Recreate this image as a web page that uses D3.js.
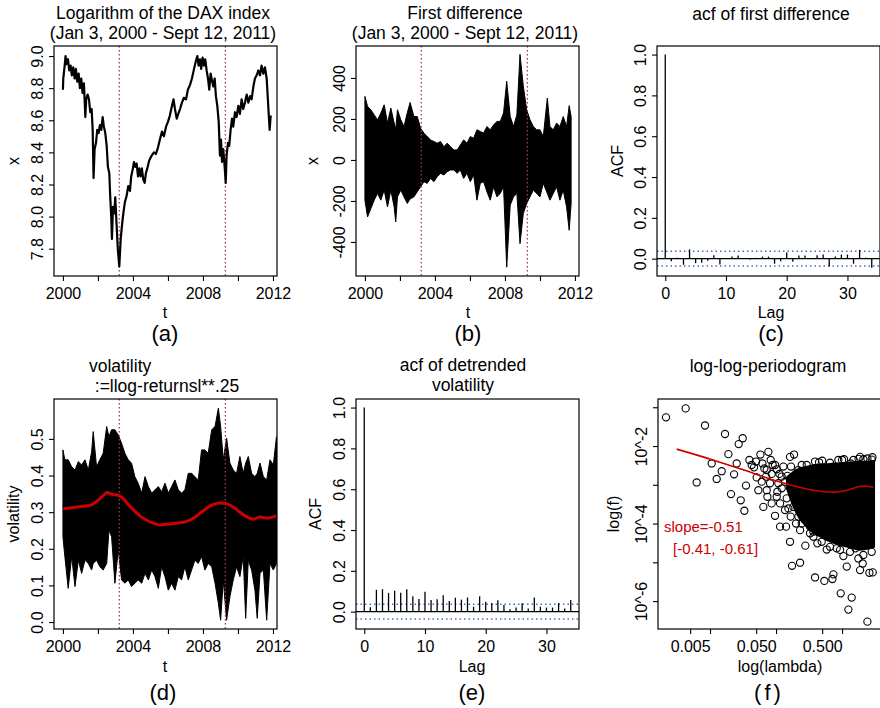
<!DOCTYPE html>
<html>
<head>
<meta charset="utf-8">
<script src="https://cdnjs.cloudflare.com/ajax/libs/d3/7.8.5/d3.min.js"></script>
<style>
  body { margin: 0; background: #fff; }
  svg { font-family: "Liberation Sans", Arial, Helvetica, sans-serif; }
</style>
</head>
<body>
<svg id="fig" width="880" height="708"></svg>
<script>
// ---------------- data ----------------
const breakYears = [2003.22, 2009.28];
const yearTicks = [2000, 2002, 2004, 2006, 2008, 2010, 2012];
const yearLabels = [2000, 2004, 2008, 2012];

// (a) log DAX  [year, log value]
const daxPoints = [
  [2000.00,8.79],[2000.02,8.86],[2000.10,8.94],[2000.15,9.00],[2000.21,8.95],[2000.29,8.98],[2000.36,8.91],
  [2000.44,8.94],[2000.51,8.88],[2000.59,8.93],[2000.67,8.86],[2000.74,8.92],[2000.82,8.84],[2000.90,8.89],
  [2000.97,8.80],[2001.05,8.86],[2001.12,8.77],[2001.20,8.83],[2001.28,8.62],[2001.33,8.73],[2001.41,8.76],
  [2001.49,8.73],[2001.56,8.65],[2001.64,8.67],[2001.70,8.54],[2001.75,8.24],[2001.81,8.42],[2001.89,8.46],
  [2001.96,8.54],[2002.04,8.52],[2002.11,8.57],[2002.19,8.54],[2002.27,8.62],[2002.34,8.56],[2002.42,8.52],
  [2002.50,8.44],[2002.57,8.31],[2002.65,8.27],[2002.70,8.13],[2002.76,8.00],[2002.80,7.86],[2002.86,8.06],
  [2002.93,8.02],[2002.99,8.12],[2003.07,7.94],[2003.14,7.79],[2003.22,7.69],[2003.30,7.86],[2003.37,7.94],
  [2003.45,8.02],[2003.54,8.09],[2003.64,8.13],[2003.73,8.19],[2003.83,8.16],[2003.90,8.25],[2003.98,8.29],
  [2004.06,8.34],[2004.13,8.31],[2004.21,8.33],[2004.29,8.25],[2004.36,8.30],[2004.44,8.25],[2004.51,8.30],
  [2004.59,8.23],[2004.67,8.21],[2004.74,8.27],[2004.82,8.30],[2004.93,8.35],[2005.07,8.38],[2005.20,8.40],
  [2005.31,8.39],[2005.43,8.43],[2005.54,8.48],[2005.66,8.53],[2005.77,8.50],[2005.89,8.56],[2006.00,8.59],
  [2006.11,8.63],[2006.23,8.69],[2006.32,8.73],[2006.40,8.67],[2006.50,8.61],[2006.59,8.64],[2006.69,8.67],
  [2006.80,8.71],[2006.91,8.74],[2007.03,8.73],[2007.14,8.79],[2007.26,8.82],[2007.37,8.86],[2007.49,8.92],
  [2007.60,8.97],[2007.68,9.00],[2007.75,8.94],[2007.83,8.98],[2007.90,8.92],[2007.98,8.99],[2008.06,8.94],
  [2008.13,8.98],[2008.21,8.91],[2008.29,8.86],[2008.36,8.79],[2008.44,8.89],[2008.51,8.85],[2008.59,8.81],
  [2008.67,8.86],[2008.74,8.75],[2008.82,8.69],[2008.90,8.59],[2008.97,8.38],[2009.03,8.48],[2009.09,8.34],
  [2009.16,8.42],[2009.24,8.31],[2009.30,8.21],[2009.35,8.38],[2009.43,8.46],[2009.50,8.44],[2009.58,8.54],
  [2009.66,8.61],[2009.73,8.56],[2009.83,8.65],[2009.92,8.62],[2010.02,8.69],[2010.11,8.64],[2010.21,8.73],
  [2010.30,8.67],[2010.40,8.71],[2010.50,8.76],[2010.59,8.71],[2010.69,8.75],[2010.78,8.73],[2010.88,8.81],
  [2010.97,8.86],[2011.07,8.88],[2011.16,8.91],[2011.26,8.88],[2011.35,8.94],[2011.45,8.89],[2011.54,8.93],
  [2011.64,8.86],[2011.73,8.69],[2011.81,8.54],[2011.87,8.63]
];

// (b) first difference envelope  [year, high, low]
const diffBand = [
  [2000.00,310,-196],[2000.15,261,-278],[2000.34,245,-237],[2000.53,220,-196],[2000.72,196,-163],
  [2000.91,229,-196],[2001.10,269,-147],[2001.29,180,-229],[2001.48,253,-147],[2001.67,180,-229],
  [2001.76,150,-302],[2001.86,245,-180],[2002.05,196,-147],[2002.23,163,-180],[2002.42,230,-212],
  [2002.58,280,-190],[2002.80,212,-180],[2002.99,212,-155],[2003.18,155,-131],[2003.37,131,-106],
  [2003.56,114,-114],[2003.75,98,-90],[2003.94,90,-106],[2004.13,82,-82],[2004.32,90,-65],
  [2004.51,65,-73],[2004.70,82,-57],[2004.89,65,-49],[2005.08,49,-49],[2005.27,49,-65],
  [2005.45,73,-49],[2005.64,98,-90],[2005.83,82,-65],[2006.02,114,-106],[2006.21,106,-73],
  [2006.40,147,-196],[2006.59,139,-114],[2006.78,131,-106],[2006.97,163,-155],[2007.16,147,-196],
  [2007.35,171,-131],[2007.54,188,-180],[2007.73,188,-163],[2007.92,229,-131],[2008.10,384,-523],
  [2008.30,212,-220],[2008.49,163,-180],[2008.68,220,-163],[2008.86,515,-408],[2009.05,359,-261],
  [2009.24,245,-212],[2009.43,196,-180],[2009.62,163,-147],[2009.81,147,-163],[2010.00,147,-180],
  [2010.19,114,-114],[2010.42,302,-163],[2010.57,163,-196],[2010.76,147,-163],[2010.95,180,-131],
  [2011.14,163,-196],[2011.33,212,-147],[2011.52,163,-229],[2011.67,265,-343],[2011.78,212,-212]
];

// (c), (e) autocorrelations for lags 0..34
const acfLags = d3.range(0, 35);
const acfDiff = [1, -0.013, 0.005, -0.03, 0.045, -0.022, -0.02, -0.01, 0.017, -0.029, 0.003, 0.01, 0.016,
  0.003, -0.004, 0.004, 0.01, 0.01, -0.025, -0.013, 0.03, -0.015, 0.016, 0.016, 0.003, 0.017, 0.02, -0.038,
  0.01, 0.02, 0.02, -0.025, 0.043, 0.005, -0.045];
const acfVol = [1, 0.022, 0.107, 0.11, 0.092, 0.103, 0.093, 0.11, 0.075, 0.062, 0.097, 0.057, 0.061, 0.08,
  0.052, 0.068, 0.059, 0.069, 0.024, 0.075, 0.049, 0.043, 0.056, 0.033, 0.012, 0.02, 0.041, 0.016, 0.069,
  0.024, 0.02, 0.02, 0.042, 0.016, 0.057];
const ciBound = 0.036;

// (d) volatility envelope [year, high, low] and smoothed trend [year, value]
const volBand = [
  [2000.00,0.470,0.233],[2000.11,0.443,0.179],[2000.30,0.443,0.092],[2000.50,0.424,0.179],[2000.69,0.415,0.097],
  [2000.88,0.438,0.169],[2001.07,0.429,0.133],[2001.26,0.443,0.169],[2001.45,0.415,0.160],[2001.64,0.465,0.142],
  [2001.73,0.520,0.160],[2001.92,0.424,0.169],[2002.11,0.443,0.151],[2002.30,0.461,0.142],[2002.50,0.534,0.160],
  [2002.63,0.506,0.251],[2002.78,0.525,0.233],[2002.97,0.525,0.106],[2003.16,0.511,0.197],[2003.35,0.488,0.115],
  [2003.54,0.461,0.106],[2003.73,0.443,0.115],[2003.92,0.434,0.097],[2004.11,0.397,0.106],[2004.30,0.379,0.115],
  [2004.50,0.352,0.106],[2004.69,0.397,0.133],[2004.88,0.370,0.115],[2005.07,0.352,0.142],[2005.26,0.361,0.124],
  [2005.45,0.370,0.092],[2005.64,0.356,0.151],[2005.83,0.379,0.124],[2006.02,0.352,0.087],[2006.21,0.370,0.106],
  [2006.40,0.388,0.087],[2006.59,0.361,0.124],[2006.78,0.352,0.115],[2006.97,0.361,0.151],[2007.16,0.406,0.115],
  [2007.35,0.406,0.142],[2007.54,0.397,0.169],[2007.73,0.388,0.160],[2007.92,0.470,0.179],[2008.11,0.470,0.142],
  [2008.30,0.461,0.160],[2008.50,0.525,0.151],[2008.69,0.534,0.106],[2008.88,0.584,0.051],[2009.01,0.534,0.005],
  [2009.16,0.443,0.115],[2009.35,0.502,0.005],[2009.54,0.434,0.069],[2009.73,0.415,0.115],[2009.92,0.406,0.151],
  [2010.11,0.452,0.124],[2010.30,0.406,0.179],[2010.44,0.434,0.010],[2010.59,0.452,0.169],[2010.78,0.406,0.142],
  [2010.97,0.397,0.087],[2011.10,0.406,0.010],[2011.26,0.434,0.133],[2011.45,0.397,0.142],[2011.64,0.388,0.005],
  [2011.83,0.443,0.160],[2012.02,0.429,0.142],[2012.20,0.506,0.160]
];
const volTrend = [
  [2000.02,0.309],[2000.59,0.313],[2001.16,0.316],[2001.64,0.320],[2002.02,0.333],[2002.30,0.345],
  [2002.53,0.354],[2002.78,0.349],[2003.16,0.346],[2003.45,0.337],[2003.73,0.321],[2004.02,0.307],
  [2004.40,0.290],[2004.78,0.278],[2005.16,0.270],[2005.54,0.265],[2005.92,0.267],[2006.30,0.269],
  [2006.69,0.271],[2007.07,0.275],[2007.45,0.283],[2007.83,0.297],[2008.21,0.311],[2008.59,0.321],
  [2008.97,0.325],[2009.35,0.323],[2009.73,0.314],[2010.11,0.300],[2010.50,0.287],[2010.88,0.281],
  [2011.26,0.287],[2011.64,0.284],[2012.20,0.290]
];

// (f) periodogram, log10 scale: visible circles [log10 lambda, log10 f]
const pgPoints = [
  [-2.667,-1.26],[-2.369,-1.03],[-2.202,-2.94],[-2.076,-1.47],[-1.975,-2.45],[-1.899,-2.85],[-1.823,-2.65],
  [-1.773,-1.69],[-1.722,-2.21],[-1.682,-3.24],[-1.636,-2.73],[-1.596,-2.45],[-1.566,-1.95],[-1.535,-3.40],
  [-1.505,-1.80],[-1.480,-3.67],[-1.455,-3.02],[-1.404,-2.36],[-1.369,-2.49],[-1.333,-2.55],[-1.303,-2.40],
  [-1.293,-2.81],[-1.268,-3.14],[-1.237,-2.22],[-1.207,-2.45],[-1.177,-2.58],[-1.152,-2.79],[-1.116,-2.15],
  [-1.081,-2.36],[-1.051,-2.49],[-0.990,-2.60],[-0.965,-2.96],[-0.788,-2.28],[-0.727,-2.22],[-0.773,-2.53],
  [-0.687,-2.71],[-0.611,-2.49],[-0.535,-2.49],[-0.485,-2.62],[-0.348,-2.42],[-0.293,-2.62],[-0.232,-2.58],
  [-0.131,-2.53],[-0.056,-2.36],[0.030,-2.34],[0.131,-2.45],[0.273,-2.28],[0.384,-2.32],[0.460,-2.29],
  [-1.217,-2.92],[-1.141,-3.14],[-1.091,-2.96],[-0.990,-3.31],[-0.939,-3.48],[-0.838,-3.35],[-0.813,-3.61],
  [-0.864,-2.92],[-0.914,-2.79],[-0.737,-3.57],[-0.662,-3.82],[-0.611,-4.00],
  [-0.409,-2.40],[-0.182,-2.43],[0.172,-2.36],[0.323,-2.34],
  [-1.015,-3.80],[-0.939,-4.08],[-0.848,-4.08],[-0.788,-4.47],[-0.758,-5.09],[-0.636,-5.01],[-0.556,-4.57],
  [-0.409,-5.39],[-0.374,-4.51],[-0.268,-5.48],[-0.232,-4.67],[-0.146,-5.43],[-0.131,-5.31],[-0.081,-4.64],
  [-0.020,-5.80],[0.020,-4.84],[0.071,-5.11],[0.096,-6.22],[0.146,-5.91],[0.202,-4.64],[0.247,-4.90],
  [0.273,-5.20],[0.313,-5.03],[0.384,-6.53],[0.414,-5.27],[0.449,-4.73],[0.465,-5.26],
  [-0.434,-4.34],[-0.308,-4.47],[-0.182,-4.60],[-0.030,-4.68],[0.121,-4.73],[0.323,-4.81],[-0.485,-4.25],
  [-0.636,-4.17],
  [-1.141,-2.62],[-1.066,-2.72],[-1.015,-2.49],[-0.949,-2.72],[-0.889,-2.53],[-0.828,-2.77],[-0.914,-3.09],
  [-0.980,-3.18],[-0.788,-3.05],[-0.712,-3.22],[-0.662,-2.92],[-0.596,-3.44],[-0.697,-4.00],[-0.535,-3.82],
  [-0.485,-4.08],[-0.434,-4.21],[-0.864,-3.65],[-0.778,-3.82],[-1.066,-3.48],[-1.131,-3.31],[-1.192,-3.57],
  [-0.662,-2.62],[-0.576,-2.75],[-0.434,-2.58],[-0.300,-2.38],[0.000,-2.36],[0.250,-2.33],[0.450,-2.35]
];
// solid overplotted core of the cloud [log10 lambda, top, bottom]
const pgDense = [
  [-0.850,-2.80,-3.10],[-0.700,-2.60,-3.75],[-0.535,-2.51,-4.12],[-0.333,-2.46,-4.36],
  [-0.131,-2.43,-4.52],[0.071,-2.41,-4.62],[0.273,-2.38,-4.70],[0.500,-2.38,-4.62]
];
const pgFit = [
  [-2.505,-2.08],[-1.955,-2.36],[-1.348,-2.70],[-0.940,-2.93],[-0.440,-3.14],[-0.136,-3.19],
  [0.076,-3.14],[0.318,-3.03],[0.470,-3.06]
];

// ---------------- drawing ----------------
const FONT = '"Liberation Sans", Arial, Helvetica, sans-serif';
const svg = d3.select("#fig");
const W = 223, H = 230;
const RED = "#cc0000", BREAK = "#b03060", CI = "#3f6fc6";
const TICK = 16, AXT = 16, MAIN = 17.5, TAG = 22;

function panel(id, left, top) {
  const g = svg.append("g").attr("transform", `translate(${left},${top})`);
  svg.append("clipPath").attr("id", "clip-" + id)
    .append("rect").attr("x", left).attr("y", top).attr("width", W).attr("height", H);
  g.inner = g.append("g").attr("clip-path", `url(#clip-${id})`)
    .attr("transform", `translate(${-left},${-top})`)
    .append("g").attr("transform", `translate(${left},${top})`);
  return g;
}

function box(g) {
  g.append("rect").attr("width", W).attr("height", H)
    .attr("fill", "none").attr("stroke", "#000").attr("stroke-width", 1.2);
}

function xAxis(g, scale, ticks, fmt) {
  const ax = g.append("g").attr("transform", `translate(0,${H})`)
    .call(d3.axisBottom(scale).tickValues(ticks).tickFormat(fmt).tickSize(5).tickSizeOuter(0));
  ax.attr("font-size", TICK).attr("font-family", FONT);
  ax.select(".domain").remove();
  ax.selectAll(".tick line").attr("stroke", "#000").attr("stroke-width", 1.1);
  ax.selectAll(".tick text").attr("fill", "#000").attr("y", 17).attr("dy", "0.35em");
}

function yAxis(g, scale, ticks, fmt) {
  const ax = g.append("g")
    .call(d3.axisLeft(scale).tickValues(ticks).tickFormat(fmt).tickSize(5).tickSizeOuter(0));
  ax.attr("font-size", TICK).attr("font-family", FONT);
  ax.select(".domain").remove();
  ax.selectAll(".tick line").attr("stroke", "#000").attr("stroke-width", 1.1);
  ax.selectAll(".tick text").attr("fill", "#000").attr("x", 0).attr("dy", "0.35em")
    .attr("text-anchor", "middle").attr("transform", "translate(-17,0) rotate(-90)");
}

function label(x, y, txt, size, opts = {}) {
  const t = svg.append("text").attr("x", x).attr("y", y).attr("font-size", size)
    .attr("text-anchor", opts.anchor || "middle").attr("fill", opts.fill || "#000").text(txt);
  if (opts.rotate) t.attr("transform", `rotate(-90,${x},${y})`).attr("dy", "0.35em");
  if (opts.spacing) t.attr("letter-spacing", opts.spacing);
  return t;
}

function breaks(g, x) {
  breakYears.forEach(b => {
    g.inner.append("line").attr("x1", x(b)).attr("x2", x(b)).attr("y1", 0).attr("y2", H)
      .attr("stroke", BREAK).attr("stroke-width", 1.3).attr("stroke-dasharray", "1.5,2.5");
  });
}

const yearFmt = d => yearLabels.includes(d) ? d : "";
const xYear = d3.scaleLinear().domain([1999.49, 2012.23]).range([0, W]);
const xLag = d3.scaleLinear().domain([-1.36, 35.36]).range([0, W]);

// ---- (a) ----
{
  const g = panel("a", 54, 46);
  const y = d3.scaleLinear().domain([7.63, 9.0625]).range([H, 0]);
  breaks(g, xYear);
  g.inner.append("path").datum(daxPoints)
    .attr("d", d3.line().x(d => xYear(d[0])).y(d => y(d[1])))
    .attr("fill", "none").attr("stroke", "#000").attr("stroke-width", 2.2).attr("stroke-linejoin", "round");
  box(g);
  xAxis(g, xYear, yearTicks, yearFmt);
  yAxis(g, y, [7.8, 8.0, 8.2, 8.4, 8.6, 8.8, 9.0], d3.format(".1f"));
  label(163, 19, "Logarithm of the DAX index", MAIN);
  label(163, 39, "(Jan 3, 2000 - Sept 12, 2011)", MAIN);
  label(165, 318, "t", AXT);
  label(13, 161, "x", AXT, {rotate: true});
  label(165, 341, "(a)", TAG);
}

// ---- (b) ----
{
  const g = panel("b", 356, 46);
  const y = d3.scaleLinear().domain([-566, 556]).range([H, 0]);
  g.inner.append("path").datum(diffBand)
    .attr("d", d3.area().x(d => xYear(d[0])).y0(d => y(d[2])).y1(d => y(d[1])))
    .attr("fill", "#000").attr("stroke", "#000").attr("stroke-width", 1);
  breaks(g, xYear);
  box(g);
  xAxis(g, xYear, yearTicks, yearFmt);
  yAxis(g, y, [-400, -200, 0, 200, 400], d => d);
  label(465, 19, "First difference", MAIN);
  label(465, 39, "(Jan 3, 2000 - Sept 12, 2011)", MAIN);
  label(468, 318, "t", AXT);
  label(312, 161, "x", AXT, {rotate: true});
  label(468, 341, "(b)", TAG);
}

function acfPanel(id, left, top, values) {
  const g = panel(id, left, top);
  const y = d3.scaleLinear().domain([-0.085, 1.042]).range([H, 0]);
  [ciBound, -ciBound].forEach(c => {
    g.inner.append("line").attr("x1", 0).attr("x2", W).attr("y1", y(c)).attr("y2", y(c))
      .attr("stroke", CI).attr("stroke-width", 1.5).attr("stroke-dasharray", "1.5,3");
  });
  g.inner.append("line").attr("x1", 0).attr("x2", W).attr("y1", y(0)).attr("y2", y(0))
    .attr("stroke", "#000").attr("stroke-width", 1.2);
  g.inner.selectAll("line.bar").data(acfLags).join("line").attr("class", "bar")
    .attr("x1", d => xLag(d)).attr("x2", d => xLag(d))
    .attr("y1", y(0)).attr("y2", d => y(values[d]))
    .attr("stroke", "#000").attr("stroke-width", 1.3);
  box(g);
  xAxis(g, xLag, [0, 10, 20, 30], d => d);
  yAxis(g, y, [0, 0.2, 0.4, 0.6, 0.8, 1.0], d3.format(".1f"));
  return g;
}

// ---- (c) ----
{
  acfPanel("c", 657, 46, acfDiff);
  label(771, 20, "acf of first difference", MAIN);
  label(771, 318, "Lag", AXT);
  label(617, 161, "ACF", AXT, {rotate: true});
  label(771, 341, "(c)", TAG);
}

// ---- (d) ----
{
  const g = panel("d", 54, 399);
  const y = d3.scaleLinear().domain([-0.019, 0.609]).range([H, 0]);
  g.inner.append("path").datum(volBand)
    .attr("d", d3.area().x(d => xYear(d[0])).y0(d => y(d[2])).y1(d => y(d[1])))
    .attr("fill", "#000").attr("stroke", "#000").attr("stroke-width", 1);
  breaks(g, xYear);
  g.inner.append("path").datum(volTrend)
    .attr("d", d3.line().curve(d3.curveMonotoneX).x(d => xYear(d[0])).y(d => y(d[1])))
    .attr("fill", "none").attr("stroke", RED).attr("stroke-width", 3);
  box(g);
  xAxis(g, xYear, yearTicks, yearFmt);
  yAxis(g, y, [0, 0.1, 0.2, 0.3, 0.4, 0.5], d3.format(".1f"));
  label(89, 372, "volatility", MAIN, {anchor: "start"});
  label(167, 392, ":=llog-returnsl**.25", MAIN);
  label(165, 672, "t", AXT);
  label(13, 514, "volatility", AXT, {rotate: true});
  label(163, 700, "(d)", TAG);
}

// ---- (e) ----
{
  acfPanel("e", 356, 399, acfVol);
  label(463, 371, "acf of detrended", MAIN);
  label(463, 391, "volatility", MAIN);
  label(472, 672, "Lag", AXT);
  label(315, 514, "ACF", AXT, {rotate: true});
  label(472, 700, "(e)", TAG);
}

// ---- (f) ----
{
  const g = panel("f", 658, 399);
  const p10 = v => Math.pow(10, v);
  const x = d3.scaleLog().domain([p10(-2.788), p10(0.59)]).range([0, W]);
  const y = d3.scaleLog().domain([p10(-6.72), p10(-0.787)]).range([H, 0]);
  g.inner.append("path").datum(pgDense)
    .attr("d", d3.area().curve(d3.curveMonotoneX)
      .x(d => x(p10(d[0]))).y0(d => y(p10(d[2]))).y1(d => y(p10(d[1]))))
    .attr("fill", "#000");
  g.inner.selectAll("circle").data(pgPoints).join("circle")
    .attr("cx", d => x(p10(d[0]))).attr("cy", d => y(p10(d[1]))).attr("r", 3.6)
    .attr("fill", "none").attr("stroke", "#000").attr("stroke-width", 1.1);
  g.inner.append("path").datum(pgFit)
    .attr("d", d3.line().curve(d3.curveMonotoneX).x(d => x(p10(d[0]))).y(d => y(p10(d[1]))))
    .attr("fill", "none").attr("stroke", RED).attr("stroke-width", 1.6);
  box(g);
  const xl = {"-2.3": "0.005", "-1.3": "0.050", "-0.3": "0.500"};
  xAxis(g, x, [0.005, 0.01, 0.05, 0.1, 0.5, 1], d => xl[Math.log10(d).toFixed(1)] || "");
  yAxis(g, y, [1e-1, 1e-2, 1e-3, 1e-4, 1e-5, 1e-6], d => {
    const e = Math.round(Math.log10(d));
    return e % 2 === 0 ? "10^" + e : "";
  });
  label(664, 532, "slope=-0.51", 15, {anchor: "start", fill: RED});
  label(673, 554, "[-0.41, -0.61]", 15, {anchor: "start", fill: RED});
  label(768, 372, "log-log-periodogram", MAIN);
  label(780, 672, "log(lambda)", AXT);
  label(613, 514, "log(f)", AXT, {rotate: true});
  label(769, 700, "(f)", TAG, {spacing: 3});
}
</script>
</body>
</html>
